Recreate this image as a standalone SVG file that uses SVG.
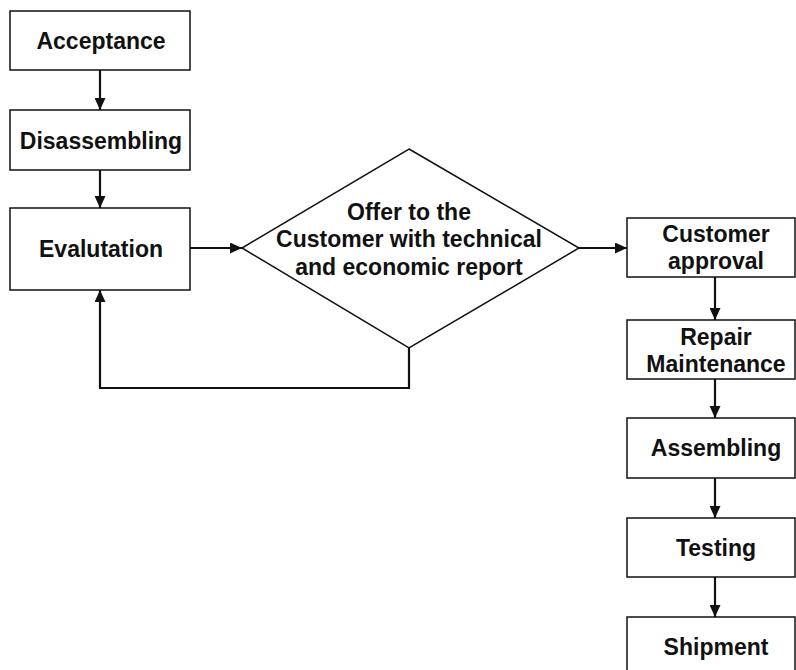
<svg xmlns="http://www.w3.org/2000/svg" width="796" height="670" viewBox="0 0 796 670">
<style>
.box{fill:#fff;stroke:#111;stroke-width:1.5}
.t{font-family:"Liberation Sans",Arial,Helvetica,sans-serif;font-weight:bold;font-size:23px;fill:#111;text-anchor:middle}
.c{fill:none;stroke:#111;stroke-width:2.2}
</style>
<defs>
<marker id="ah" viewBox="0 0 12 11" refX="12" refY="5.5" markerWidth="12" markerHeight="11" markerUnits="userSpaceOnUse" orient="auto">
<path d="M0,0 L12,5.5 L0,11 z" fill="#111"/>
</marker>
</defs>
<rect width="796" height="670" fill="#fff"/>
<g id="connectors">
<line class="c" x1="100" y1="70" x2="100" y2="110" marker-end="url(#ah)"/>
<line class="c" x1="100" y1="170" x2="100" y2="208" marker-end="url(#ah)"/>
<line class="c" x1="190" y1="248" x2="242" y2="248" marker-end="url(#ah)"/>
<polyline class="c" points="409,348 409,388 100,388 100,290" marker-end="url(#ah)"/>
<line class="c" x1="579" y1="248" x2="627" y2="248" marker-end="url(#ah)"/>
<line class="c" x1="715" y1="277" x2="715" y2="320" marker-end="url(#ah)"/>
<line class="c" x1="715" y1="379" x2="715" y2="418" marker-end="url(#ah)"/>
<line class="c" x1="715" y1="478" x2="715" y2="518" marker-end="url(#ah)"/>
<line class="c" x1="715" y1="577" x2="715" y2="617" marker-end="url(#ah)"/>
</g>
<g id="acceptance">
<rect class="box" x="10" y="11" width="180" height="59"/>
<text class="t" x="101" y="49">Acceptance</text>
</g>
<g id="disassembling">
<rect class="box" x="10" y="110" width="180" height="60"/>
<text class="t" x="101" y="148.5">Disassembling</text>
</g>
<g id="evalutation">
<rect class="box" x="10" y="208" width="180" height="82"/>
<text class="t" x="101" y="257">Evalutation</text>
</g>
<g id="offer">
<polygon class="box" points="409,149 579,248 409,348 242,248"/>
<text class="t" x="409" y="220">Offer to the</text>
<text class="t" x="409" y="247">Customer with technical</text>
<text class="t" x="409" y="274.5">and economic report</text>
</g>
<g id="customer-approval">
<rect class="box" x="627" y="218" width="168" height="59"/>
<text class="t" x="716" y="242">Customer</text>
<text class="t" x="716" y="269">approval</text>
</g>
<g id="repair-maintenance">
<rect class="box" x="627" y="320" width="168" height="59"/>
<text class="t" x="716" y="344.5">Repair</text>
<text class="t" x="716" y="371.5">Maintenance</text>
</g>
<g id="assembling">
<rect class="box" x="627" y="418" width="168" height="60"/>
<text class="t" x="716" y="456">Assembling</text>
</g>
<g id="testing">
<rect class="box" x="627" y="518" width="168" height="59"/>
<text class="t" x="716" y="556">Testing</text>
</g>
<g id="shipment">
<rect class="box" x="627" y="617" width="168" height="60"/>
<text class="t" x="716" y="655">Shipment</text>
</g>
</svg>
